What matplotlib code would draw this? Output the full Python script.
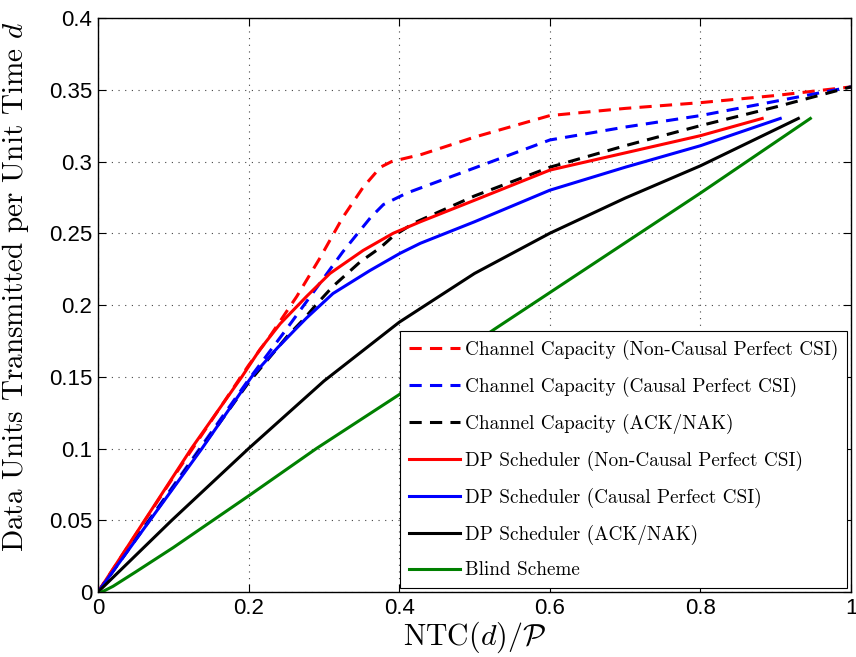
import matplotlib
matplotlib.use('Agg')
import matplotlib.pyplot as plt

plt.rcParams['mathtext.fontset'] = 'cm'
plt.rcParams['axes.unicode_minus'] = False

# channel capacity curves (dashed)
cap_nc_x = [0, 0.1, 0.2, 0.228, 0.264, 0.295, 0.325, 0.352, 0.375, 0.39, 0.43, 0.5, 0.6, 0.7, 0.8, 0.9, 1.0]
cap_nc_y = [0, 0.08, 0.158, 0.178, 0.206, 0.233, 0.261, 0.282, 0.296, 0.300, 0.305, 0.317, 0.332, 0.337, 0.341, 0.346, 0.352]

cap_c_x = [0, 0.1, 0.2, 0.25, 0.3, 0.325, 0.345, 0.362, 0.379, 0.41, 0.5, 0.6, 0.7, 0.8, 0.9, 1.0]
cap_c_y = [0, 0.074, 0.148, 0.183, 0.219, 0.237, 0.250, 0.261, 0.270, 0.278, 0.2955, 0.315, 0.324, 0.332, 0.342, 0.352]

cap_ack_x = [0, 0.1, 0.2, 0.251, 0.273, 0.291, 0.312, 0.348, 0.375, 0.392, 0.419, 0.5, 0.6, 0.7, 0.8, 0.9, 1.0]
cap_ack_y = [0, 0.073, 0.146, 0.178, 0.19, 0.201, 0.213, 0.230, 0.240, 0.248, 0.257, 0.276, 0.296, 0.311, 0.325, 0.338, 0.352]

# DP scheduler curves (solid)
dp_nc_x = [0, 0.062, 0.124, 0.191, 0.215, 0.242, 0.277, 0.308, 0.352, 0.392, 0.428, 0.5, 0.6, 0.7, 0.8, 0.882]
dp_nc_y = [0, 0.05, 0.1, 0.15, 0.169, 0.187, 0.206, 0.222, 0.238, 0.25, 0.258, 0.273, 0.294, 0.306, 0.318, 0.330]

dp_c_x = [0, 0.069, 0.138, 0.204, 0.238, 0.262, 0.277, 0.312, 0.361, 0.401, 0.428, 0.5, 0.6, 0.7, 0.8, 0.906]
dp_c_y = [0, 0.05, 0.1, 0.15, 0.170, 0.183, 0.191, 0.208, 0.224, 0.236, 0.243, 0.258, 0.28, 0.296, 0.311, 0.330]

dp_ack_x = [0, 0.098, 0.2, 0.3, 0.4, 0.5, 0.6, 0.7, 0.8, 0.93]
dp_ack_y = [0, 0.05, 0.1, 0.147, 0.188, 0.222, 0.25, 0.2745, 0.297, 0.33]

blind_x = [0.005, 0.02, 0.05, 0.1, 0.15, 0.2, 0.29, 0.41, 0.526, 0.65, 0.8, 0.946]
blind_y = [0, 0.004, 0.014, 0.031, 0.049, 0.067, 0.1, 0.141, 0.183, 0.226, 0.278, 0.330]

labels = ['Channel Capacity (Non-Causal Perfect CSI)',
          'Channel Capacity (Causal Perfect CSI)',
          'Channel Capacity (ACK/NAK)',
          'DP Scheduler (Non-Causal Perfect CSI)',
          'DP Scheduler (Causal Perfect CSI)',
          'DP Scheduler (ACK/NAK)',
          'Blind Scheme']

xticks = [0, 0.2, 0.4, 0.6, 0.8, 1]
xticklabels = ['0', '0.2', '0.4', '0.6', '0.8', '1']
yticks = [0, 0.05, 0.1, 0.15, 0.2, 0.25, 0.3, 0.35, 0.4]
yticklabels = ['0', '0.05', '0.1', '0.15', '0.2', '0.25', '0.3', '0.35', '0.4']

fig = plt.figure(figsize=(8.56, 6.57), dpi=100)
ax = fig.add_axes([0.1145, 0.0989, 0.8797, 0.8737])

lw = 2.2
dash = (4, 2.7)
ax.plot(cap_nc_x, cap_nc_y, color='red', lw=lw, dashes=dash, label=labels[0])
ax.plot(cap_c_x, cap_c_y, color='blue', lw=lw, dashes=dash, label=labels[1])
ax.plot(cap_ack_x, cap_ack_y, color='black', lw=lw, dashes=dash, label=labels[2])
ax.plot(dp_nc_x, dp_nc_y, color='red', lw=lw, label=labels[3])
ax.plot(dp_c_x, dp_c_y, color='blue', lw=lw, label=labels[4])
ax.plot(dp_ack_x, dp_ack_y, color='black', lw=lw, label=labels[5])
ax.plot(blind_x, blind_y, color='#008000', lw=lw, label=labels[6])

ax.set_xlim(0, 1)
ax.set_ylim(0, 0.4)
ax.set_xticks(xticks)
ax.set_xticklabels(xticklabels, fontfamily='Liberation Sans', fontsize=16)
ax.set_yticks(yticks)
ax.set_yticklabels(yticklabels, fontfamily='Liberation Sans', fontsize=16)
ax.tick_params(direction='in', length=6, width=0.8, top=True, right=True, pad=4)
ax.grid(True, linestyle=(0, (1, 5)), color='#444444', linewidth=0.8)
for s in ax.spines.values():
    s.set_linewidth(1.0)

ax.set_xlabel(r'$\mathrm{NTC}(d)/\mathcal{P}$', fontsize=21.5, labelpad=1)
ax.set_ylabel(r'Data Units Transmitted per Unit Time $d$', fontfamily='cmr10', fontsize=21)
ax.yaxis.set_label_coords(-0.089, 0.531)

leg = ax.legend(loc='lower right', bbox_to_anchor=(0.995, 0.007), borderaxespad=0,
                fancybox=False, edgecolor='black', framealpha=1,
                prop={'family': 'cmr10', 'size': 13.8},
                handlelength=2.7, handletextpad=0.25, labelspacing=0.88, borderpad=0.45)
leg.get_frame().set_linewidth(0.8)

fig.savefig('out.png', dpi=100)
